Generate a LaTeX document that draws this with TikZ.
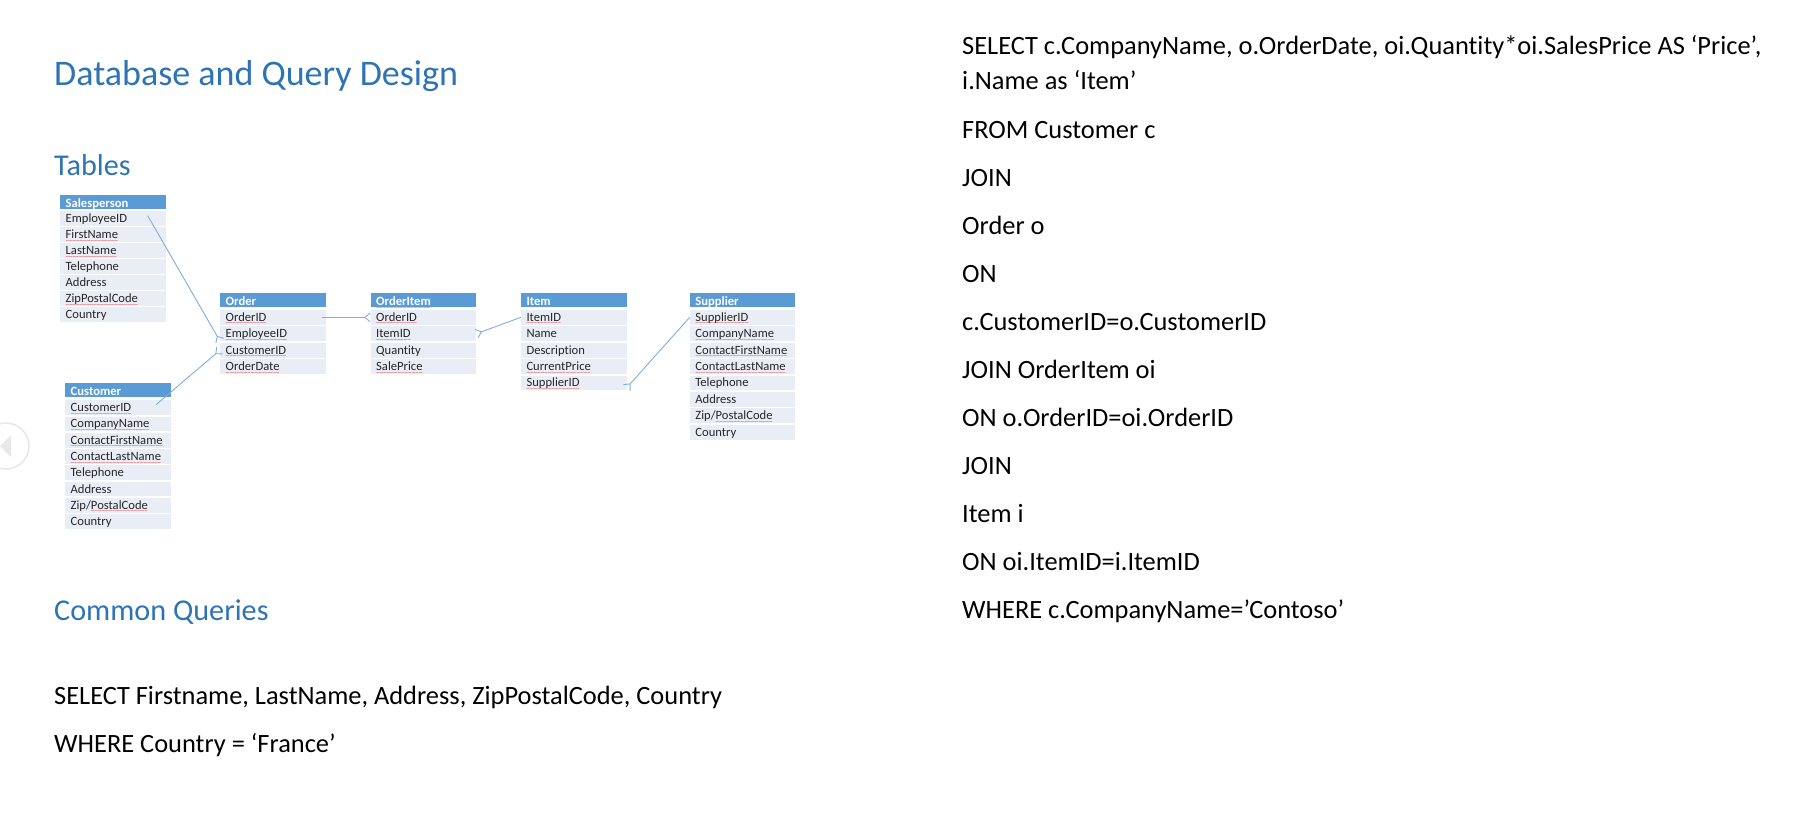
\documentclass[tikz,border=0pt]{standalone}
\usepackage{fontspec}
\setmainfont[Ligatures=NoCommon]{Carlito}
\newfontfamily\wavefont{DejaVu Sans}
\usetikzlibrary{calc,positioning,arrows.meta}
\definecolor{headblue}{HTML}{5B9BD5}
\definecolor{rowblue}{HTML}{E9EDF5}
\definecolor{linkblue}{HTML}{7FAEDB}
\definecolor{titleblue}{HTML}{2E74B5}
\definecolor{navgray}{HTML}{E8E8E8}
\definecolor{wavered}{HTML}{E8303A}
\newsavebox\spellbox
\newcommand\spell[1]{\sbox\spellbox{#1}\rlap{\raisebox{-3.6pt}{\color{wavered}\hbox to\wd\spellbox{\xleaders\hbox{\kern-.4pt\wavefont\mdseries\fontsize{5}{5}\selectfont\char`\~\kern-.4pt}\hfill}}}\usebox\spellbox}
\tikzset{
  title/.style={anchor=base west, inner sep=0pt, text=titleblue, font=\fontsize{36}{36}\selectfont},
  subtitle/.style={anchor=base west, inner sep=0pt, text=titleblue, font=\fontsize{30.2}{30}\selectfont},
  query/.style={anchor=base west, inner sep=0pt, text=black, font=\fontsize{26.4}{26}\selectfont},
  header/.style={rectangle, anchor=north west, outer sep=0pt, fill=headblue, text=white, inner ysep=0pt, inner xsep=5.7pt,
                 text width=94.3pt, minimum height=14.2pt, text height=11pt, text depth=0pt,
                 font=\fontsize{12.6}{12}\selectfont\bfseries},
  row/.style={rectangle, outer sep=0pt, fill=rowblue, text=black!85, inner ysep=0pt, inner xsep=5.7pt,
              text width=94.3pt, minimum height=14.7pt, text height=8pt, text depth=0pt,
              font=\fontsize{12.6}{12}\selectfont},
  link/.style={draw=linkblue, line width=0.9pt, -{Straight Barb[reversed,length=5pt,width=9pt,line width=0.9pt]}}
}
\begin{document}
\begin{tikzpicture}[x=1pt,y=-1pt]
  \useasboundingbox (0,0) rectangle (1808,831);

  % Draw slide navigation button cut by the left edge.
  \draw[navgray,line width=1.6pt] (6,446) circle (23);
  \fill[navgray] (0,446) -- (11,435) -- (11,457) -- cycle;

  % Draw headings.
  \node[title] (mainTitle) at (54,85) {Database and Query Design};
  \node[subtitle] (tablesTitle) at (54,175.5) {Tables};
  \node[subtitle] (queriesTitle) at (54,620) {Common Queries};

  % Salesperson table.
  \node[header] (sales) at (60,194.5) {Salesperson};
  \node[row,below=2.6pt of sales] (salesEmployee) {EmployeeID};
  \node[row,below=1.3pt of salesEmployee] (salesFirst) {\spell{FirstName}};
  \node[row,below=1.3pt of salesFirst] (salesLast) {\spell{LastName}};
  \node[row,below=1.3pt of salesLast] (salesPhone) {Telephone};
  \node[row,below=1.3pt of salesPhone] (salesAddress) {Address};
  \node[row,below=1.3pt of salesAddress] (salesZip) {\spell{ZipPostalCode}};
  \node[row,below=1.3pt of salesZip] (salesCountry) {Country};

  % Customer table.
  \node[header] (customer) at (65,383) {Customer};
  \node[row,below=3pt of customer] (custId) {\spell{CustomerID}};
  \node[row,below=1.6pt of custId] (custCompany) {\spell{CompanyName}};
  \node[row,below=1.6pt of custCompany] (custFirst) {\spell{ContactFirstName}};
  \node[row,below=1.6pt of custFirst] (custLast) {\spell{ContactLastName}};
  \node[row,below=1.6pt of custLast] (custPhone) {Telephone};
  \node[row,below=1.6pt of custPhone] (custAddress) {Address};
  \node[row,below=1.6pt of custAddress] (custZip) {Zip/\spell{PostalCode}};
  \node[row,below=1.6pt of custZip] (custCountry) {Country};

  % Order table.
  \node[header] (order) at (220,292.8) {Order};
  \node[row,below=3pt of order] (orderId) {\spell{OrderID}};
  \node[row,below=1.7pt of orderId] (orderEmployee) {\spell{EmployeeID}};
  \node[row,below=1.7pt of orderEmployee] (orderCustomer) {\spell{CustomerID}};
  \node[row,below=1.7pt of orderCustomer] (orderDate) {\spell{OrderDate}};

  % OrderItem table.
  \node[header] (orderItem) at (370.5,292.8) {\spell{OrderItem}};
  \node[row,below=3pt of orderItem] (oiOrder) {\spell{OrderID}};
  \node[row,below=1.7pt of oiOrder] (oiItem) {\spell{ItemID}};
  \node[row,below=1.7pt of oiItem] (oiQuantity) {Quantity};
  \node[row,below=1.7pt of oiQuantity] (oiPrice) {\spell{SalePrice}};

  % Item table.
  \node[header] (item) at (520.8,292.8) {Item};
  \node[row,below=3pt of item] (itemId) {\spell{ItemID}};
  \node[row,below=1.7pt of itemId] (itemName) {Name};
  \node[row,below=1.7pt of itemName] (itemDescr) {Description};
  \node[row,below=1.7pt of itemDescr] (itemPrice) {\spell{CurrentPrice}};
  \node[row,below=1.7pt of itemPrice] (itemSupplier) {\spell{SupplierID}};

  % Supplier table.
  \node[header] (supplier) at (689.7,292.8) {Supplier};
  \node[row,below=3pt of supplier] (supId) {\spell{SupplierID}};
  \node[row,below=1.7pt of supId] (supCompany) {\spell{CompanyName}};
  \node[row,below=1.7pt of supCompany] (supFirst) {\spell{ContactFirstName}};
  \node[row,below=1.7pt of supFirst] (supLast) {\spell{ContactLastName}};
  \node[row,below=1.7pt of supLast] (supPhone) {Telephone};
  \node[row,below=1.7pt of supPhone] (supAddress) {Address};
  \node[row,below=1.7pt of supAddress] (supZip) {Zip/\spell{PostalCode}};
  \node[row,below=1.7pt of supZip] (supCountry) {Country};

  % Draw foreign key links, each ending in a crow's foot.
  \coordinate (salesFree) at ($(salesEmployee.east)+(-18,-3)$);
  \coordinate (custFree) at ($(custId.east)+(-14.5,-3)$);
  \coordinate (orderFree) at ($(orderId.east)+(-4,0)$);
  \coordinate (supplierEnd) at ($(itemSupplier.east)+(0,5)$);
  \draw[link] (salesFree) -- (orderEmployee.south west);
  \draw[link] (custFree) -- (orderCustomer.west);
  \draw[link] (orderFree) -- (oiOrder.west);
  \draw[link] (itemId.west) -- (oiItem.east);
  \draw[link] (supId.west) -- (supplierEnd);

  % Draw common query.
  \node[query] (simpleSelect) at (54,704) {SELECT Firstname, LastName, Address, ZipPostalCode, Country};
  \node[query] (simpleWhere) at (54,752) {WHERE Country = ‘France’};

  % Draw join query in the right column.
  \node[query] (joinSelect) at (962,54) {SELECT c.CompanyName, o.OrderDate, oi.Quantity*oi.SalesPrice AS ‘Price’,};
  \node[query] (joinName) at (962,89) {i.Name as ‘Item’};
  \node[query] (joinFrom) at (962,138) {FROM Customer c};
  \node[query] (joinOne) at (962,186) {JOIN};
  \node[query] (joinOrder) at (962,234) {Order o};
  \node[query] (joinOn) at (962,282) {ON};
  \node[query] (joinCust) at (962,330) {c.CustomerID=o.CustomerID};
  \node[query] (joinItems) at (962,378) {JOIN OrderItem oi};
  \node[query] (joinOrderId) at (962,426) {ON o.OrderID=oi.OrderID};
  \node[query] (joinTwo) at (962,474) {JOIN};
  \node[query] (joinItem) at (962,522) {Item i};
  \node[query] (joinItemId) at (962,570) {ON oi.ItemID=i.ItemID};
  \node[query] (joinWhere) at (962,618) {WHERE c.CompanyName=’Contoso’};
\end{tikzpicture}
\end{document}
